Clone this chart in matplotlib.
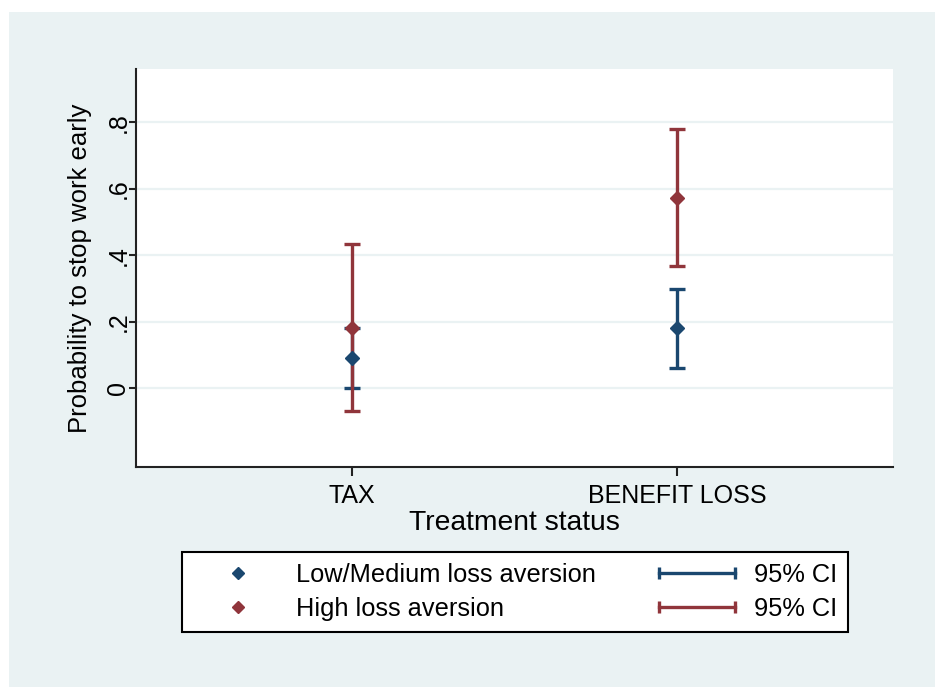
import matplotlib
matplotlib.use("Agg")
import matplotlib.pyplot as plt
from matplotlib.patches import Rectangle
from matplotlib.lines import Line2D
from matplotlib.legend_handler import HandlerLine2D

plt.rcParams['font.family'] = ['Liberation Sans', 'DejaVu Sans']

categories = ["TAX", "BENEFIT LOSS"]
low_mean = [0.09, 0.18]
low_lo = [0.0, 0.061]
low_hi = [0.18, 0.298]
high_mean = [0.18, 0.573]
high_lo = [-0.069, 0.369]
high_hi = [0.434, 0.781]
yticks = [0, 0.2, 0.4, 0.6, 0.8]
yticklabels = ["0", ".2", ".4", ".6", ".8"]

BLUE = "#1a476f"
RED = "#90353b"
BG = "#eaf2f3"

W, H = 935, 687
fig = plt.figure(figsize=(W / 100, H / 100), dpi=100, facecolor="white")
fig.patches.append(Rectangle((9 / W, 0), 1 - 9 / W, 1 - 12 / H, transform=fig.transFigure,
                             facecolor=BG, edgecolor="none", zorder=-10))

ax = fig.add_axes([136 / W, (H - 467) / H, (893 - 136) / W, (467 - 69) / H])
ax.set_facecolor("white")
x = [1, 2]
ax.set_xlim(1 - 216 / 325, 2 + 216 / 325)
ax.set_ylim(-0.237, 0.96)

for yv in yticks:
    ax.axhline(yv, color=BG, lw=1.6, zorder=0)

def ci(xs, lo, hi, color):
    mid = [(a + b) / 2 for a, b in zip(lo, hi)]
    err = [[m - a for m, a in zip(mid, lo)], [b - m for m, b in zip(mid, hi)]]
    ax.errorbar(xs, mid, yerr=err, fmt="none", ecolor=color, elinewidth=2.4,
                capsize=5.5, capthick=2.4, zorder=2)

ci(x, low_lo, low_hi, BLUE)
ci(x, high_lo, high_hi, RED)
ax.plot(x, low_mean, linestyle="none", marker="D", color=BLUE, markersize=7, zorder=3)
ax.plot(x, high_mean, linestyle="none", marker="D", color=RED, markersize=7, zorder=3)

for s in ["top", "right"]:
    ax.spines[s].set_visible(False)
for s in ["left", "bottom"]:
    ax.spines[s].set_linewidth(1.5)
    ax.spines[s].set_color("#222222")

ax.set_xticks(x)
ax.set_xticklabels(categories, fontsize=18)
ax.set_yticks(yticks)
ax.set_yticklabels(yticklabels, fontsize=18, rotation=90, va="center")
ax.tick_params(axis="x", length=6.5, width=1.5, color="#222222", pad=6)
ax.tick_params(axis="y", length=5, width=1.5, color="#222222", pad=-1)
ax.set_xlabel("Treatment status", fontsize=20.3, labelpad=1)
ax.set_ylabel("Probability to stop work early", fontsize=18.5)
ax.yaxis.set_label_coords((92 - 136) / (893 - 136), 0.5)

h1 = Line2D([], [], linestyle="none", marker="D", color=BLUE, markersize=6.5)
h2 = Line2D([], [], linestyle="none", marker="D", color=RED, markersize=6.5)
h3 = Line2D([], [], color=BLUE, lw=2.4, marker="|", markersize=9, markeredgewidth=2.4)
h4 = Line2D([], [], color=RED, lw=2.4, marker="|", markersize=9, markeredgewidth=2.4)
leg = fig.legend([h1, h2, h3, h4],
                 ["Low/Medium loss aversion", "High loss aversion", "95% CI", "95% CI"],
                 ncol=2, loc="lower left",
                 bbox_to_anchor=(182 / W, (H - 632) / H, (848 - 182) / W, (632 - 551) / H),
                 mode="expand", fontsize=18.3, frameon=True, fancybox=False,
                 edgecolor="black", handlelength=3.6, handletextpad=0.45,
                 borderpad=0.42, labelspacing=0.41, borderaxespad=0,
                 handler_map={h3: HandlerLine2D(numpoints=2), h4: HandlerLine2D(numpoints=2),
                              h1: HandlerLine2D(numpoints=1), h2: HandlerLine2D(numpoints=1)})
leg.get_frame().set_linewidth(1.5)
leg.get_frame().set_facecolor("white")
leg.get_frame().set_alpha(1)

fig.savefig("out.png", dpi=100, facecolor="white")
